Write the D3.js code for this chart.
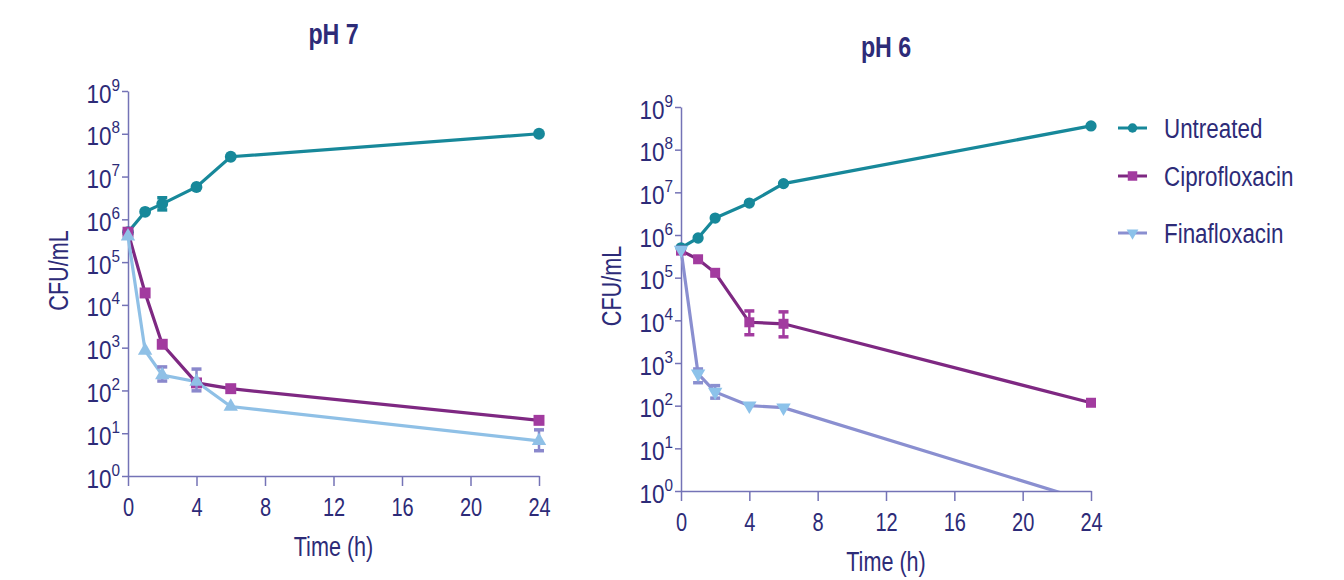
<!DOCTYPE html>
<html>
<head>
<meta charset="utf-8">
<script src="https://cdn.jsdelivr.net/npm/d3@7"></script>
<style>
  body { margin: 0; background: #fff; }
  svg text { font-family: "Liberation Sans", Arial, sans-serif; fill: #2d2b78; }
</style>
</head>
<body>
<svg id="chart" width="1344" height="580"></svg>
<script>
// sampling times (h)
const hours = [0, 1, 2, 4, 6, 24];
const xTicks = [0, 4, 8, 12, 16, 20, 24];
const yTicks = [0, 1, 2, 3, 4, 5, 6, 7, 8, 9];

// pH 7, CFU/mL
const untreatedPH7 = [5e5, 1.5e6, 2.3e6, 5.7e6, 2.9e7, 1e8];
const ciproPH7 = [5e5, 1.9e4, 1.2e3, 150, 110, 20];
const finaPH7 = [4e5, 850, 230, 160, 42, 6.6];
// error bars [low, high] per time point
const untreatedPH7Err = [null, null, [1.66e6, 3.2e6], null, null, null];
const ciproPH7Err = [null, null, null, null, null, null];
const finaPH7Err = [null, null, [166, 355], [98, 316], null, [3.9, 12]];

// pH 6, CFU/mL
const untreatedPH6 = [5e5, 8.5e5, 2.5e6, 5.6e6, 1.6e7, 3.6e8];
const ciproPH6 = [4.3e5, 2.7e5, 1.3e5, 9e3, 8.3e3, 117];
const finaPH6 = [4.5e5, 560, 210, 100, 90, 0.55];
const untreatedPH6Err = [null, null, null, null, null, null];
const ciproPH6Err = [null, null, null, [4.6e3, 1.66e4], [4.1e3, 1.58e4], null];
const finaPH6Err = [null, [345, 725], [150, 295], null, null, null];

const legendNames = ["Untreated", "Ciprofloxacin", "Finafloxacin"];

const teal = "#17889a";
const cipLine = "#7e2882", cipMark = "#a23b9f";
const axisColor = "#7473b6";
const narrow = 0.8; // the source font is a condensed sans

const svg = d3.select("#chart");
let clipId = 0;

// text squeezed horizontally around its anchor point
function label(parent, x, y, str, size, opts = {}) {
    const g = parent.append("g")
        .attr("transform", `translate(${x},${y})${opts.rotate ? ` rotate(${opts.rotate})` : ""} scale(${narrow},1)`);
    return g.append("text")
        .attr("text-anchor", opts.anchor || "middle")
        .style("font-size", size + "px")
        .style("font-weight", opts.bold ? "bold" : null)
        .text(str);
}

function drawPanel(opts) {
    const w = opts.width, h = opts.height;
    const g = svg.append("g").attr("transform", `translate(${opts.left},${opts.top})`);

    const x = d3.scaleLinear().domain([0, 24]).range([0, w]);
    const y = d3.scaleLog().domain([1, 1e9]).range([h, 0]);

    // axes
    const yAxis = g.append("g")
        .call(d3.axisLeft(y).tickValues(yTicks.map(p => Math.pow(10, p))).tickSize(6).tickSizeOuter(0).tickFormat(""));
    yAxis.selectAll("text").remove();
    yAxis.selectAll(".tick").each(function(d) {
        const t = d3.select(this).append("text")
            .attr("transform", "translate(-8,11) scale(0.9,1)")
            .attr("text-anchor", "end")
            .style("font-size", "25px");
        t.append("tspan").text("10");
        t.append("tspan").attr("dy", -12).style("font-size", "17px").text(Math.round(Math.log10(d)));
    });

    const xAxis = g.append("g")
        .attr("transform", `translate(0,${h})`)
        .call(d3.axisBottom(x).tickValues(xTicks).tickSize(10).tickSizeOuter(0).tickPadding(8));
    xAxis.selectAll("text").style("font-size", "25px").attr("dy", "0.9em")
        .attr("transform", `scale(${narrow},1)`);

    [yAxis, xAxis].forEach(a => {
        a.selectAll("path, line").attr("stroke", axisColor).attr("stroke-width", 1.5);
    });

    // titles
    label(g, w / 2, opts.titleY, opts.title, 29, { bold: true });
    label(g, -60, h / 2 - opts.yLabelShift, "CFU/mL", 27, { rotate: -90 });
    label(g, w / 2, h + 80, "Time (h)", 27);

    // clip for data
    const id = "clip" + (clipId++);
    g.append("clipPath").attr("id", id).append("rect")
        .attr("x", -10).attr("y", -20).attr("width", w + 20).attr("height", h + 20);
    const plot = g.append("g").attr("clip-path", `url(#${id})`);

    const line = d3.line().x(d => x(d[0])).y(d => y(Math.max(d[1], 0.01)));

    opts.series.forEach(s => {
        const pts = hours.map((t, i) => [t, s.values[i]]);
        plot.append("path").datum(pts)
            .attr("fill", "none").attr("stroke", s.line).attr("stroke-width", 3.2)
            .attr("d", line);
    });

    opts.series.forEach(s => {
        // error bars
        s.err.forEach((e, i) => {
            if (!e) return;
            const cx = x(hours[i]);
            const eg = plot.append("g").attr("stroke", s.errColor || s.mark).attr("stroke-width", 2.5);
            eg.append("line").attr("x1", cx).attr("x2", cx).attr("y1", y(e[0])).attr("y2", y(e[1]));
            eg.append("line").attr("x1", cx - 5).attr("x2", cx + 5).attr("y1", y(e[0])).attr("y2", y(e[0])).attr("stroke-width", 3.5);
            eg.append("line").attr("x1", cx - 5).attr("x2", cx + 5).attr("y1", y(e[1])).attr("y2", y(e[1])).attr("stroke-width", 3.5);
        });
        // markers
        hours.forEach((t, i) => {
            const v = s.values[i];
            if (v < 1) return;
            plot.append("path")
                .attr("d", d3.symbol().type(s.symbol).size(s.size)())
                .attr("transform", `translate(${x(t)},${y(v)})${s.flip ? " rotate(180)" : ""}`)
                .attr("fill", s.mark);
        });
    });
}

drawPanel({
    left: 128, top: 91, width: 411, height: 385, title: "pH 7", titleY: -47, yLabelShift: 13,
    series: [
        { values: untreatedPH7, err: untreatedPH7Err, line: teal, mark: teal, symbol: d3.symbolCircle, size: 110 },
        { values: ciproPH7, err: ciproPH7Err, line: cipLine, mark: cipMark, symbol: d3.symbolSquare, size: 120 },
        { values: finaPH7, err: finaPH7Err, line: "#8fc0e6", mark: "#8fc0e6", errColor: "#8a88cc", symbol: d3.symbolTriangle, size: 90 }
    ]
});

drawPanel({
    left: 681, top: 107, width: 410, height: 384, title: "pH 6", titleY: -50, yLabelShift: 13,
    series: [
        { values: untreatedPH6, err: untreatedPH6Err, line: teal, mark: teal, symbol: d3.symbolCircle, size: 100 },
        { values: ciproPH6, err: ciproPH6Err, line: cipLine, mark: cipMark, symbol: d3.symbolSquare, size: 100 },
        { values: finaPH6, err: finaPH6Err, line: "#8a8fd0", mark: "#8cc2ea", errColor: "#8a8fd0", symbol: d3.symbolTriangle, size: 90, flip: true }
    ]
});

// legend
const legendY = [128, 176, 233];
const legendStyle = [
    { line: teal, mark: teal, symbol: d3.symbolCircle, size: 70 },
    { line: cipLine, mark: cipMark, symbol: d3.symbolSquare, size: 90 },
    { line: "#8a8fd0", mark: "#8cc2ea", symbol: d3.symbolTriangle, size: 60, flip: true }
];
const legend = svg.append("g");
legendNames.forEach((name, i) => {
    const st = legendStyle[i];
    const lg = legend.append("g").attr("transform", `translate(1118,${legendY[i]})`);
    lg.append("line").attr("x1", 0).attr("x2", 29).attr("stroke", st.line).attr("stroke-width", 3);
    lg.append("path").attr("d", d3.symbol().type(st.symbol).size(st.size)())
        .attr("transform", `translate(14.5,0)${st.flip ? " rotate(180)" : ""}`).attr("fill", st.mark);
    label(lg, 46, 10, name, 28, { anchor: "start" });
});
</script>
</body>
</html>
